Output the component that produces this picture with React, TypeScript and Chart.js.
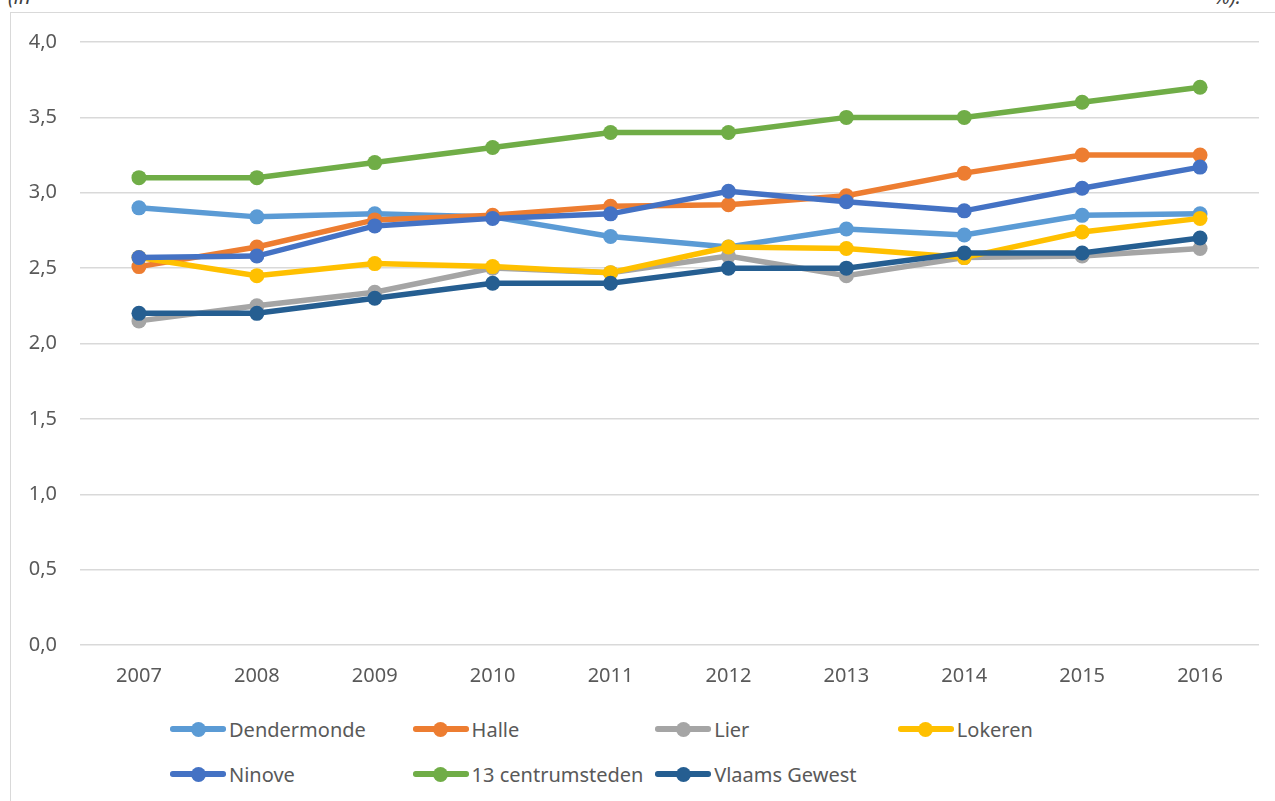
import React, { useEffect, useRef } from "react";
import { Chart, registerables } from "chart.js";

Chart.register(...registerables);

const categories = ["2007", "2008", "2009", "2010", "2011", "2012", "2013", "2014", "2015", "2016"];

const dendermonde = [2.9, 2.84, 2.86, 2.84, 2.71, 2.64, 2.76, 2.72, 2.85, 2.86];
const halle = [2.51, 2.64, 2.82, 2.85, 2.91, 2.92, 2.98, 3.13, 3.25, 3.25];
const lier = [2.15, 2.25, 2.34, 2.5, 2.47, 2.58, 2.45, 2.57, 2.58, 2.63];
const lokeren = [2.57, 2.45, 2.53, 2.51, 2.47, 2.64, 2.63, 2.57, 2.74, 2.83];
const ninove = [2.57, 2.58, 2.78, 2.83, 2.86, 3.01, 2.94, 2.88, 3.03, 3.17];
const centrumsteden = [3.1, 3.1, 3.2, 3.3, 3.4, 3.4, 3.5, 3.5, 3.6, 3.7];
const vlaamsGewest = [2.2, 2.2, 2.3, 2.4, 2.4, 2.5, 2.5, 2.6, 2.6, 2.7];

const seriesNames = ["Dendermonde", "Halle", "Lier", "Lokeren", "Ninove", "13 centrumsteden", "Vlaams Gewest"];
const seriesValues = [dendermonde, halle, lier, lokeren, ninove, centrumsteden, vlaamsGewest];
const seriesColors = ["#5B9BD5", "#ED7D31", "#A5A5A5", "#FFC000", "#4472C4", "#70AD47", "#255E91"];

const yTicks = [0, 0.5, 1, 1.5, 2, 2.5, 3, 3.5, 4];

const FONT = "'Noto Sans', sans-serif";
const TEXT = "#595959";

export default function App() {
  const ref = useRef<HTMLCanvasElement | null>(null);

  useEffect(() => {
    document.body.style.margin = "0";
    const n = seriesNames.length;
    const chart = new Chart(ref.current as HTMLCanvasElement, {
      type: "line",
      data: {
        labels: categories,
        datasets: seriesNames.map((name, i) => ({
          label: name,
          data: seriesValues[i],
          borderColor: seriesColors[i],
          backgroundColor: seriesColors[i],
          pointBackgroundColor: seriesColors[i],
          pointBorderColor: seriesColors[i],
          borderWidth: 5.5,
          pointRadius: 7.5,
          pointBorderWidth: 0,
          tension: 0,
          order: n - i,
        })),
      },
      options: {
        responsive: false,
        animation: false,
        layout: { padding: { left: 0, right: 16, top: 42, bottom: 0 } },
        plugins: { legend: { display: false }, tooltip: { enabled: false } },
        scales: {
          x: {
            offset: true,
            grid: { display: false, drawTicks: false, offset: true },
            border: { display: false },
            ticks: { color: TEXT, font: { family: FONT, size: 20 }, padding: 19 },
            afterFit: (s: any) => {
              s.height = 55;
            },
          },
          y: {
            min: 0,
            max: 4,
            afterBuildTicks: (s: any) => {
              s.ticks = yTicks.map((v) => ({ value: v }));
            },
            grid: { color: "#d9d9d9", lineWidth: 1.5, drawTicks: false },
            border: { display: false },
            ticks: {
              color: TEXT,
              font: { family: FONT, size: 20 },
              padding: 23,
              callback: (v: any) => Number(v).toFixed(1).replace(".", ","),
            },
            afterFit: (s: any) => {
              s.width = 80;
            },
          },
        },
      },
    });
    return () => chart.destroy();
  }, []);

  const colStart = 170;
  const colStep = 242.6;
  const rowY = [729, 774];

  return (
    <div style={{ position: "fixed", left: 0, top: 0, width: 1275, height: 801, overflow: "hidden", background: "#fff" }}>
      <span style={{ position: "absolute", left: 8, top: -15, font: `italic 20px ${FONT}`, color: "#404040", lineHeight: "24px" }}>(in</span>
      <span style={{ position: "absolute", left: 1214, top: -15, font: `italic 20px ${FONT}`, color: "#404040", lineHeight: "24px" }}>%).</span>
      <div style={{ position: "absolute", left: 10, top: 12, width: 1320, height: 840, border: "1.5px solid #d9d9d9", boxSizing: "border-box" }} />
      <canvas ref={ref} width={1275} height={700} style={{ position: "absolute", left: 0, top: 0, width: 1275, height: 700 }} />
      {seriesNames.map((name, i) => {
        const col = i % 4;
        const row = Math.floor(i / 4);
        return (
          <div
            key={name}
            style={{
              position: "absolute",
              left: colStart + col * colStep,
              top: rowY[row] - 14,
              height: 28,
              display: "flex",
              alignItems: "center",
              whiteSpace: "nowrap",
            }}
          >
            <div style={{ position: "relative", width: 56, height: 28, marginRight: 3 }}>
              <div style={{ position: "absolute", left: 0, top: 11.25, width: 56, height: 5.5, borderRadius: 2.75, background: seriesColors[i] }} />
              <div style={{ position: "absolute", left: 20.5, top: 6.5, width: 15, height: 15, borderRadius: "50%", background: seriesColors[i] }} />
            </div>
            <span style={{ font: `20px ${FONT}`, color: TEXT }}>{name}</span>
          </div>
        );
      })}
    </div>
  );
}
